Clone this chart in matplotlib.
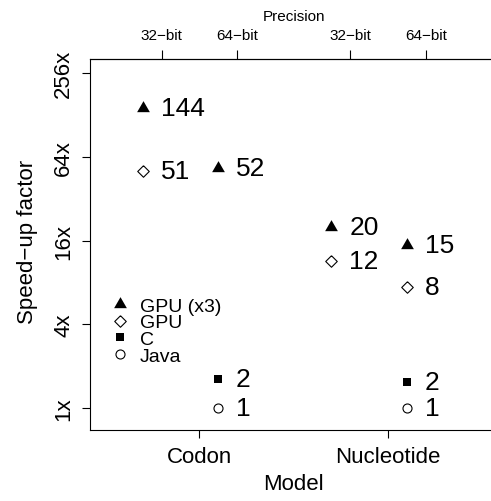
import matplotlib.pyplot as plt

plt.rcParams['font.family'] = ['Liberation Sans', 'DejaVu Sans']

# column positions: Codon 32/64-bit, Nucleotide 32/64-bit
positions = [1.0, 2.0, 3.5, 4.5]
precision_labels = ["32\u2212bit", "64\u2212bit", "32\u2212bit", "64\u2212bit"]
model_positions = [1.5, 4.0]
model_labels = ["Codon", "Nucleotide"]

# speed-up factors and the printed labels
gpu3_x = [1.0, 2.0, 3.5, 4.5]
gpu3_y = [145, 53, 20, 15]
gpu3_text = ["144", "52", "20", "15"]

gpu_x = [1.0, 3.5, 4.5]
gpu_y = [51, 11.5, 7.5]
gpu_text = ["51", "12", "8"]

c_x = [2.0, 4.5]
c_y = [1.62, 1.54]
c_text = ["2", "2"]

java_x = [2.0, 4.5]
java_y = [1.0, 1.0]
java_text = ["1", "1"]

yticks = [1, 4, 16, 64, 256]
ytick_labels = ["1x", "4x", "16x", "64x", "256x"]

W, H = 491, 502
fig = plt.figure(figsize=(W / 100, H / 100), dpi=100)
ax = fig.add_axes([90 / W, 1 - 431 / H, 407.5 / W, 371 / H])

tri = [(-1, -0.577), (1, -0.577), (0, 1.155), (-1, -0.577)]
dia = [(0, 1), (1, 0), (0, -1), (-1, 0), (0, 1)]

series = [
    (gpu3_x, gpu3_y, gpu3_text, dict(marker=tri, ms=10.6, mfc="black", mec="black", mew=0), "GPU (x3)"),
    (gpu_x, gpu_y, gpu_text, dict(marker=dia, ms=8.3, mfc="white", mec="black", mew=0.8), "GPU"),
    (c_x, c_y, c_text, dict(marker="s", ms=6, mfc="black", mec="black", mew=0), "C"),
    (java_x, java_y, java_text, dict(marker="o", ms=6.5, mfc="white", mec="black", mew=0.8), "Java"),
]

handles = []
for xs, ys, texts, style, name in series:
    h, = ax.plot([x - 0.25 for x in xs], ys, ls="none", label=name, **style)
    handles.append(h)
    for x, y, t in zip(xs, ys, texts):
        ax.text(x - 0.015, y, t, fontsize=19, ha="left", va="center")

ax.set_yscale("log", base=2)
ax.set_ylim(2 ** -0.52, 2 ** 8.34)
ax.set_xlim(0.05, 5.45)
ax.set_yticks(yticks)
ax.set_yticklabels(ytick_labels, rotation=90, va="center")
ax.minorticks_off()
ax.set_xticks(model_positions)
ax.set_xticklabels(model_labels)
ax.tick_params(axis="both", length=6, width=0.8, labelsize=16, pad=5.5)
ax.tick_params(axis="y", pad=5.3)
for s in ax.spines.values():
    s.set_linewidth(0.8)

top = ax.secondary_xaxis("top")
top.set_xticks(positions)
top.set_xticklabels(precision_labels)
top.tick_params(length=6.5, width=0.8, labelsize=11, pad=6)
top.spines["top"].set_linewidth(0.8)

fig.text(294 / W, 1 - 21 / H, "Precision", fontsize=11, ha="center", va="baseline")
fig.text(293.75 / W, 1 - 474 / H, "Model", fontsize=16, ha="center", va="top")
fig.text(17 / W, 1 - 242 / H, "Speed\u2212up factor", fontsize=16, rotation=90,
         ha="left", va="center")

ax.legend(handles=handles, loc="upper left", bbox_to_anchor=(110 / W, 1 - 298 / H),
          bbox_transform=fig.transFigure, frameon=False, fontsize=14,
          borderpad=0, borderaxespad=0, handlelength=1.0, handletextpad=0.55,
          labelspacing=-0.04, markerscale=1.0)

fig.savefig("out.png", dpi=100)
